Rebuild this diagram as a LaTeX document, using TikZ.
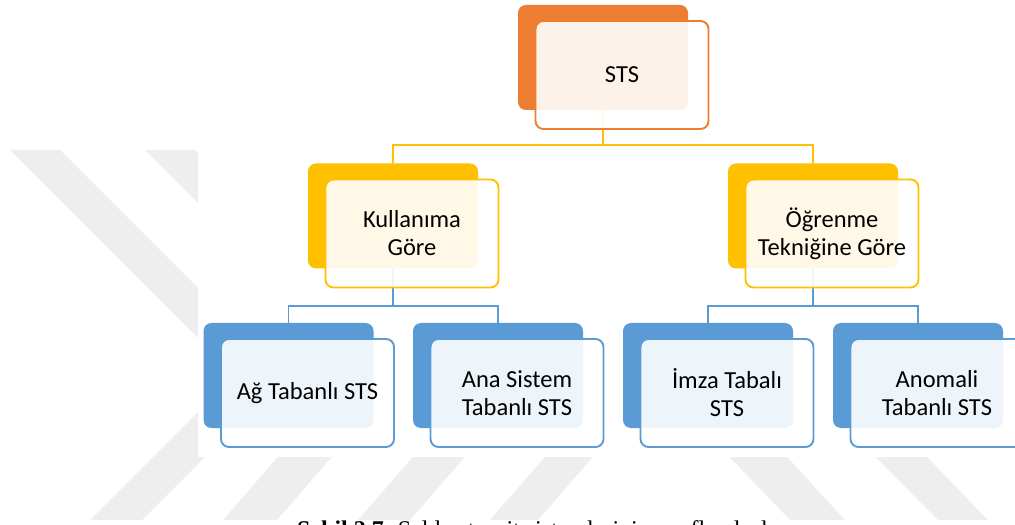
\documentclass[tikz,border=0pt]{standalone}
\usepackage{fontspec}
\setmainfont{Carlito}
\newfontfamily\captionfont{Liberation Serif}
\usetikzlibrary{positioning}
\definecolor{stsorange}{HTML}{ED7D31}
\definecolor{stsyellow}{HTML}{FFC000}
\definecolor{stsblue}{HTML}{5B9BD5}
\definecolor{markgray}{HTML}{EEEEEE}
\tikzset{
	backbox/.style={fill=#1,rounded corners=8bp,minimum width=170bp,minimum height=105bp,inner sep=0pt},
	frontbox/.style={draw=#1,line width=1.9bp,fill=white,fill opacity=0.9,text opacity=1,
		rounded corners=8bp,minimum width=173bp,minimum height=108bp,inner sep=0pt,
		align=center,font=\fontsize{24.5bp}{28bp}\selectfont,shift={(19bp,-17.5bp)}},
	link/.style={draw=#1,line width=1.8bp}
}
\begin{document}
\begin{tikzpicture}[x=1bp,y=-1bp]
\path[use as bounding box] (0,0) rectangle (1015,525);
\clip (0,0) rectangle (1015,525);

%watermark
\fill[markgray] (10,150) -- (60,150) -- (360,450) -- (310,450) -- cycle;
\fill[markgray] (145,150) -- (195,150) -- (420,375) -- (370,375) -- cycle;
\fill[markgray] (90,520) -- (142,520) -- (362,300) -- (310,300) -- cycle;
\fill[markgray] (223,520) -- (277,520) -- (364,420) -- (310,420) -- cycle;
\fill[markgray] (358,520) -- (410,520) -- (497,420) -- (445,420) -- cycle;
\fill[markgray] (490,520) -- (538,520) -- (625,420) -- (577,420) -- cycle;
\fill[markgray] (672,397) -- (732,397) -- (845,520) -- (790,520) -- cycle;
\fill[markgray] (816,397) -- (869,397) -- (988,520) -- (938,520) -- cycle;
\fill[white] (198,140) rectangle (1015,457);% figure background

%back boxes
\node[backbox=stsorange] (sts-b) at (603,57.5) {};
\node[backbox=stsyellow] (kul-b) at (393,216) {};
\node[backbox=stsyellow] (ogr-b) at (813,216) {};
\node[backbox=stsblue] (ag-b) at (288.5,375.5) {};
\node[backbox=stsblue] (ana-b) at (498,375.5) {};
\node[backbox=stsblue] (imza-b) at (708,375.5) {};
\node[backbox=stsblue] (anom-b) at (918,375.5) {};

%connectors
\draw[link=stsyellow] (sts-b.south) -- ++(0,35) -| (kul-b.north);
\draw[link=stsyellow] (sts-b.south) -- ++(0,35) -| (ogr-b.north);
\draw[link=stsblue] (kul-b.south) -- ++(0,37) -| (ag-b.north);
\draw[link=stsblue] (kul-b.south) -- ++(0,37) -| (ana-b.north);
\draw[link=stsblue] (ogr-b.south) -- ++(0,37) -| (imza-b.north);
\draw[link=stsblue] (ogr-b.south) -- ++(0,37) -| (anom-b.north);

%front boxes
\node[frontbox=stsorange] (sts) at (sts-b) {STS};
\node[frontbox=stsyellow] (kul) at (kul-b) {Kullanıma\\Göre};
\node[frontbox=stsyellow] (ogr) at (ogr-b) {Öğrenme\\Tekniğine Göre};
\node[frontbox=stsblue] (ag) at (ag-b) {Ağ Tabanlı STS};
\node[frontbox=stsblue] (ana) at (ana-b) {Ana Sistem\\Tabanlı STS};
\node[frontbox=stsblue] (imza) at (imza-b) {İmza Tabalı\\STS};
\node[frontbox=stsblue] (anom) at (anom-b) {Anomali\\Tabanlı STS};

\node[anchor=base west,inner sep=0pt,font=\captionfont\fontsize{24bp}{28bp}\selectfont] (caption) at (297,537)
{\textbf{Şekil 2.7.} Saldırı tespit sistemlerinin sınıflandırılması};
\end{tikzpicture}
\end{document}
